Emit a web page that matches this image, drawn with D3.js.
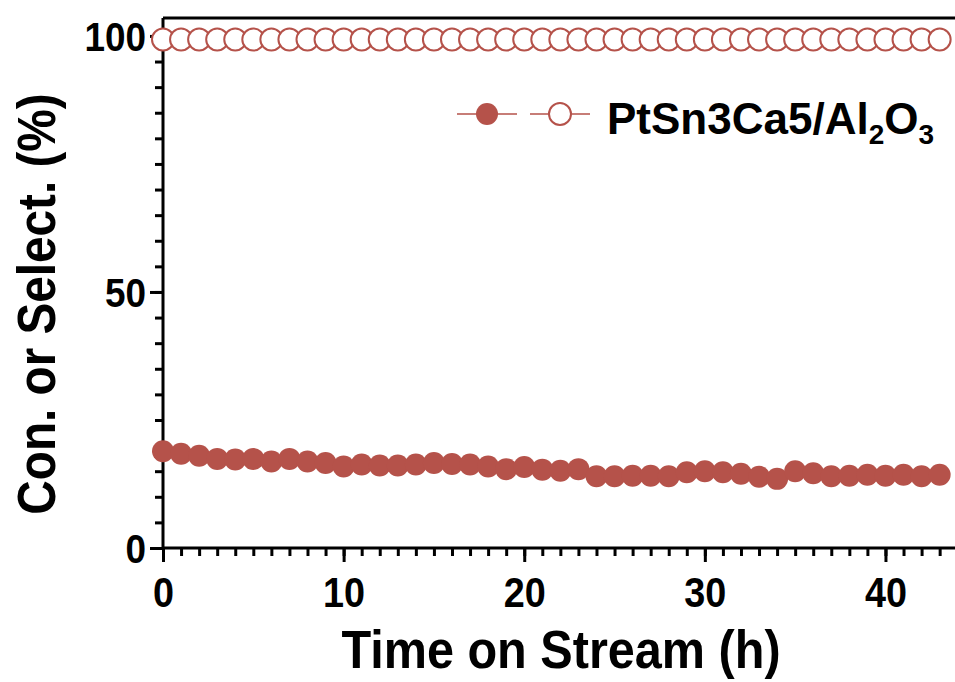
<!DOCTYPE html>
<html lang="en">
<head>
<meta charset="UTF-8">
<title>PtSn3Ca5 time on stream</title>
<script src="https://cdn.jsdelivr.net/npm/d3@7"></script>
<style>
	body { margin: 0; background: #fff; }
	svg text { font-family: "Liberation Sans", Arial, sans-serif; font-weight: bold; fill: #000; }
	.axis path, .axis line { stroke: #000; stroke-width: 3px; }
	.conv { fill: #b5524a; }
	.sel { fill: #fff; stroke: #b5524a; stroke-width: 2px; }
	.link { fill: none; stroke: #b5524a; stroke-width: 1.5px; }
</style>
</head>
<body>
<svg id="chart" width="955" height="682"></svg>
<script>
// time on stream, hours
var hours = d3.range(0, 44);

// propane conversion (%)
var conversion = [
	18.9, 18.4, 18.0, 17.4, 17.3, 17.4, 16.9, 17.4, 16.9, 16.6,
	15.9, 16.3, 16.1, 16.1, 16.3, 16.6, 16.4, 16.3, 15.9, 15.4,
	15.8, 15.3, 15.1, 15.4, 14.0, 14.0, 14.1, 14.1, 14.0, 14.8,
	15.0, 14.8, 14.5, 13.9, 13.5, 15.0, 14.6, 14.0, 14.1, 14.3,
	14.1, 14.3, 14.0, 14.3
];

// propylene selectivity (%)
var selectivity = [
	99.3, 99.3, 99.3, 99.3, 99.3, 99.3, 99.3, 99.3, 99.3, 99.3,
	99.3, 99.3, 99.3, 99.3, 99.3, 99.3, 99.3, 99.3, 99.3, 99.3,
	99.3, 99.3, 99.3, 99.3, 99.3, 99.3, 99.3, 99.3, 99.3, 99.3,
	99.3, 99.3, 99.3, 99.3, 99.3, 99.3, 99.3, 99.3, 99.3, 99.3,
	99.3, 99.3, 99.3, 99.3
];

var xTicks = [0, 10, 20, 30, 40];
var yTicks = [0, 50, 100];

var svg = d3.select('#chart');

var x = d3.scaleLinear().domain([0, 43.85]).range([163, 955]);
var y = d3.scaleLinear().domain([0, 103.5]).range([548, 18]);

var r = 11;
var squeeze = 0.9; // the original type is a bit narrow

// top frame line
svg.append('line')
	.attr('x1', x(0)).attr('x2', x(43.85))
	.attr('y1', y(103.5)).attr('y2', y(103.5))
	.attr('stroke', '#000').attr('stroke-width', 3);

// minor ticks
svg.append('g').attr('class', 'axis')
	.attr('transform', 'translate(0,' + y(0) + ')')
	.call(d3.axisBottom(x).tickValues(d3.range(0, 44)).tickSize(8).tickFormat(''))
	.call(function(g) { g.select('.domain').remove(); });

svg.append('g').attr('class', 'axis')
	.attr('transform', 'translate(' + x(0) + ',0)')
	.call(d3.axisLeft(y).tickValues(d3.range(0, 101, 5)).tickSize(8).tickFormat(''))
	.call(function(g) { g.select('.domain').remove(); });

// major ticks with labels
var xAxis = svg.append('g').attr('class', 'axis')
	.attr('transform', 'translate(0,' + y(0) + ')')
	.call(d3.axisBottom(x).tickValues(xTicks).tickSize(14).tickSizeOuter(0));
xAxis.selectAll('text')
	.attr('font-size', 42)
	.attr('y', 59).attr('dy', null)
	.attr('transform', 'scale(' + squeeze + ',1)');

var yAxis = svg.append('g').attr('class', 'axis')
	.attr('transform', 'translate(' + x(0) + ',0)')
	.call(d3.axisLeft(y).tickValues(yTicks).tickSize(13).tickSizeOuter(0));
yAxis.selectAll('text')
	.attr('font-size', 41)
	.attr('x', -17 / squeeze).attr('dy', '0.36em')
	.attr('transform', 'scale(' + squeeze + ',1)');

xAxis.select('.domain').attr('d', 'M' + x(0) + ',0H' + x(43.85));
yAxis.select('.domain').attr('d', 'M0,' + y(0) + 'V' + y(103.5));

// axis titles
svg.append('text')
	.attr('transform', 'translate(561,668) scale(' + squeeze + ',1)')
	.attr('text-anchor', 'middle')
	.attr('font-size', 54)
	.text('Time on Stream (h)');

svg.append('text')
	.attr('transform', 'translate(55,304) rotate(-90) scale(' + squeeze + ',1)')
	.attr('text-anchor', 'middle')
	.attr('font-size', 53)
	.text('Con. or Select. (%)');

// series
var line = d3.line().x(function(d) { return x(d[0]); }).y(function(d) { return y(d[1]); });
var convPts = hours.map(function(h, i) { return [h, conversion[i]]; });
var selPts = hours.map(function(h, i) { return [h, selectivity[i]]; });

svg.append('path').attr('class', 'link').attr('d', line(convPts));
svg.append('path').attr('class', 'link').attr('d', line(selPts));

svg.append('g').selectAll('circle').data(selPts).join('circle')
	.attr('class', 'sel')
	.attr('cx', function(d) { return x(d[0]); })
	.attr('cy', function(d) { return y(d[1]); })
	.attr('r', r);

svg.append('g').selectAll('circle').data(convPts).join('circle')
	.attr('class', 'conv')
	.attr('cx', function(d) { return x(d[0]); })
	.attr('cy', function(d) { return y(d[1]); })
	.attr('r', r);

// legend
var lg = svg.append('g').attr('transform', 'translate(0,114)');
lg.append('line').attr('class', 'link').attr('x1', 457).attr('x2', 517).attr('y1', 0).attr('y2', 0);
lg.append('circle').attr('class', 'conv').attr('cx', 487).attr('cy', 0).attr('r', r);
lg.append('line').attr('class', 'link').attr('x1', 530).attr('x2', 590).attr('y1', 0).attr('y2', 0);
lg.append('circle').attr('class', 'sel').attr('cx', 560).attr('cy', 0).attr('r', r);

var lt = lg.append('text').attr('x', 607).attr('y', 20).attr('font-size', 44);
lt.append('tspan').text('PtSn3Ca5/Al');
lt.append('tspan').attr('font-size', 28).attr('dy', 10).text('2');
lt.append('tspan').attr('dy', -10).text('O');
lt.append('tspan').attr('font-size', 28).attr('dy', 10).text('3');
</script>
</body>
</html>
